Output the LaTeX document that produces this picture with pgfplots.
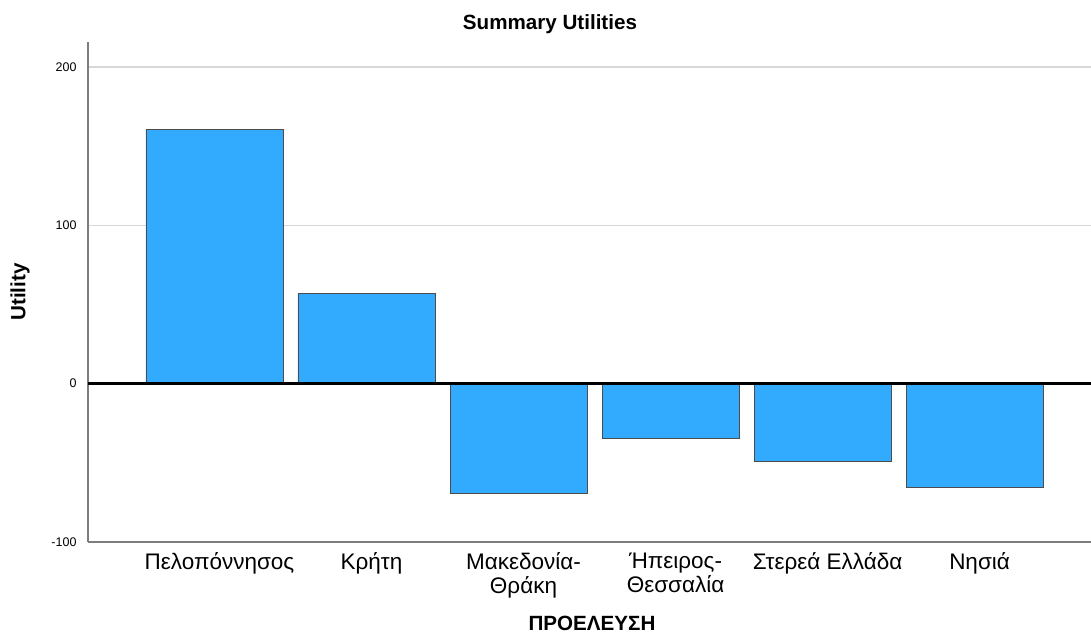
\documentclass[border=0pt]{standalone}
\usepackage{fontspec}
\setmainfont{Liberation Sans}
\usepackage{pgfplots}
\pgfplotsset{compat=1.18}
\definecolor{barblue}{RGB}{50,171,254}
\definecolor{spine}{RGB}{125,125,125}
\definecolor{gridc}{RGB}{215,215,215}
\begin{document}
\begin{tikzpicture}
\begin{axis}[
  scale only axis,
  width=1003bp, height=500bp,
  xmin=-0.832, xmax=5.766,
  ymin=-100, ymax=215.8,
  axis x line*=bottom, axis y line*=left,
  axis line style={-, spine, line width=1.5bp},
  xtick={0,1,2,3,4,5},
  xticklabels={Πελοπόννησος, Κρήτη, {Μακεδονία-\\Θράκη}, {Ήπειρος-\\Θεσσαλία}, Στερεά Ελλάδα, Νησιά},
  x tick label style={align=center, font=\fontsize{22.5bp}{24.5bp}\selectfont, yshift=-7bp, xshift=5bp},
  ytick={-100,0,100,200},
  y tick label style={font=\fontsize{12.5bp}{15bp}\selectfont, xshift=-8bp},
  /pgf/number format/assume math mode=true,
  major tick length=0pt,
  ymajorgrids,
  grid style={gridc, line width=1.2bp},
  title={\bfseries Summary Utilities},
  title style={font=\fontsize{20.6bp}{23bp}\selectfont, at={(rel axis cs:0.4606,1)}, anchor=center, yshift=12bp},
  xlabel={\bfseries ΠΡΟΕΛΕΥΣΗ},
  xlabel style={font=\fontsize{20.6bp}{23bp}\selectfont, at={(rel axis cs:0.5025,0)}, anchor=center, yshift=-81bp},
  ylabel={\bfseries Utility},
  ylabel style={font=\fontsize{20.6bp}{23bp}\selectfont, at={(rel axis cs:0,0.5)}, anchor=center, yshift=68bp},
  clip=false,
]
\addplot[ybar, bar width=137bp, fill=barblue, draw=black!70, line width=0.8bp]
  coordinates {(0,160.8) (1,57.0) (2,-69.6) (3,-34.8) (4,-49.4) (5,-65.8)};
\draw[black, line width=3.5bp] (axis cs:-0.832,0) -- (axis cs:5.766,0);
\coordinate (ll) at (rel axis cs:0,0);
\end{axis}
\pgfresetboundingbox
\useasboundingbox ([shift={(-88bp,-92bp)}]ll) rectangle ([shift={(1003bp,542bp)}]ll);
\end{tikzpicture}
\end{document}
